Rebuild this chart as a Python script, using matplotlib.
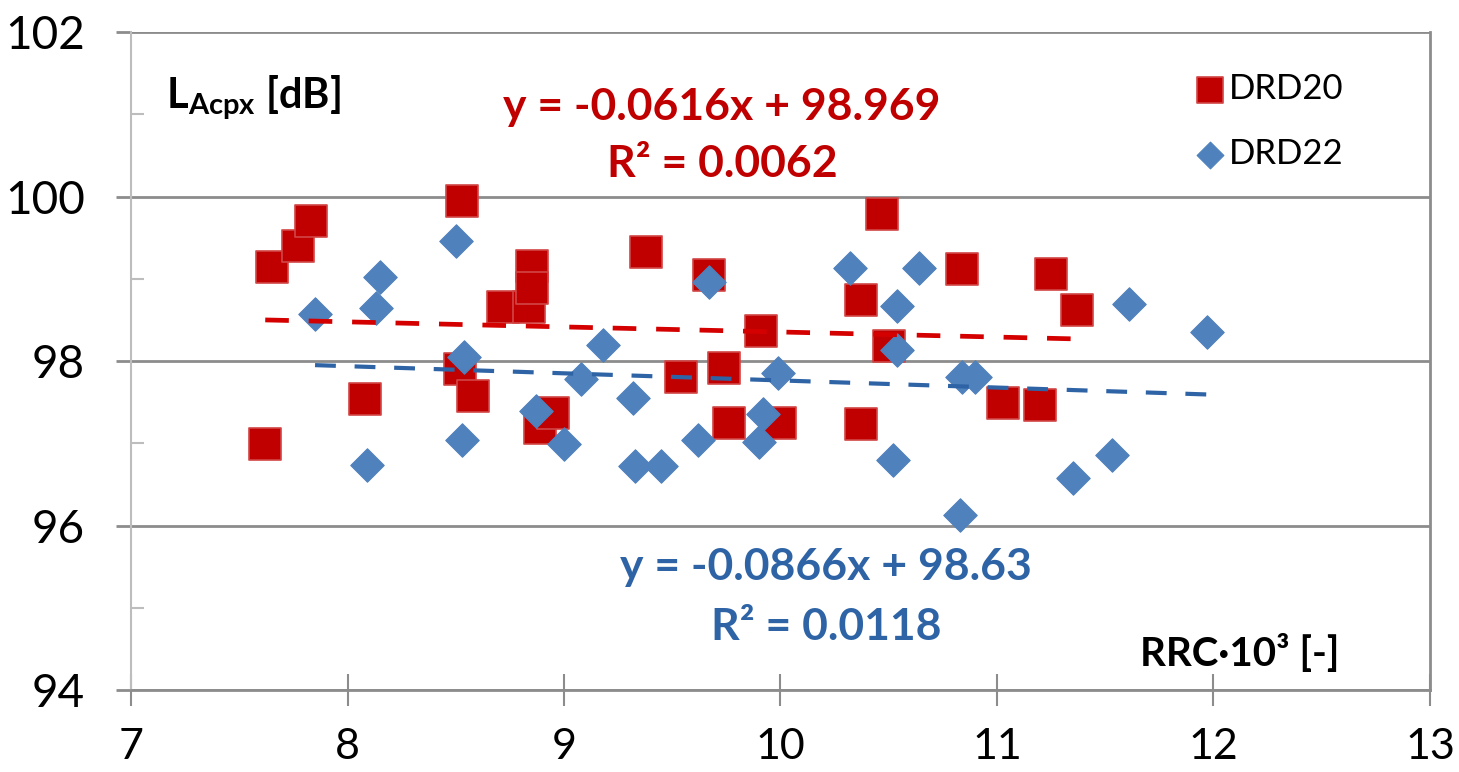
import numpy as np
import matplotlib
matplotlib.use("Agg")
import matplotlib.pyplot as plt

plt.rcParams['font.family'] = ['Lato', 'DejaVu Sans']
plt.rcParams['mathtext.fontset'] = 'custom'
plt.rcParams['mathtext.rm'] = 'Lato'
plt.rcParams['mathtext.bf'] = 'Lato:bold'

# DRD20 (red squares)
drd20_x = [7.62, 7.65, 7.77, 7.83, 8.08, 8.52, 8.53, 8.58, 8.72, 8.84,
           8.85, 8.85, 8.89, 8.95, 9.38, 9.54, 9.67, 9.74, 9.76, 9.91,
           10.00, 10.37, 10.37, 10.47, 10.50, 10.84, 11.03, 11.20, 11.25, 11.37]
drd20_y = [96.99, 99.14, 99.40, 99.70, 97.54, 97.90, 99.95, 97.58, 98.66, 98.66,
           99.16, 98.89, 97.19, 97.37, 99.32, 97.80, 99.05, 97.92, 97.25, 98.37,
           97.25, 98.74, 97.23, 99.79, 98.18, 99.12, 97.49, 97.47, 99.06, 98.62]

# DRD22 (blue diamonds)
drd22_x = [7.85, 8.09, 8.13, 8.15, 8.50, 8.53, 8.54, 8.87, 9.00, 9.08,
           9.18, 9.32, 9.33, 9.45, 9.62, 9.67, 9.90, 9.92, 9.99, 10.32,
           10.52, 10.54, 10.54, 10.64, 10.83, 10.84, 10.90, 11.35, 11.53, 11.61,
           11.97]
drd22_y = [98.57, 96.74, 98.64, 99.02, 99.46, 97.04, 98.05, 97.39, 96.99, 97.78,
           98.20, 97.55, 96.72, 96.72, 97.04, 98.96, 97.02, 97.35, 97.85, 99.13,
           96.80, 98.67, 98.13, 99.13, 96.13, 97.80, 97.80, 96.58, 96.86, 98.69,
           98.35]

# trendlines as printed on the chart
fit20 = (-0.0616, 98.969, 0.0062)
fit22 = (-0.0866, 98.63, 0.0118)

RED = '#C00000'
BLUE = '#4F81BD'
GRID = '#8C8C8C'

fig = plt.figure(figsize=(14.59, 7.72), dpi=100)
ax = fig.add_axes([0.0898, 0.1062, 0.8903, 0.8523])

ax.scatter(drd20_x, drd20_y, marker='s', s=520, facecolor=RED,
           edgecolor='#D24545', linewidth=1.2, label='DRD20', zorder=3)
ax.scatter(drd22_x, drd22_y, marker='D', s=290, facecolor=BLUE,
           edgecolor=BLUE, linewidth=0.8, label='DRD22', zorder=4)

# trendlines over the data range
tx = np.array([min(drd20_x), max(drd20_x)])
ax.plot(tx, fit20[0] * tx + fit20[1], color='#D40000', lw=3.4,
        dashes=(5, 4.2), zorder=5)
tx = np.array([min(drd22_x), max(drd22_x)])
ax.plot(tx, fit22[0] * tx + fit22[1], color='#2E64A6', lw=3.0,
        dashes=(5, 4.5), zorder=5)

ax.set_xlim(7, 13)
ax.set_ylim(94, 102)
ax.set_xticks(range(7, 14))
ax.set_yticks(range(94, 103, 2))
ax.set_yticks(range(95, 102, 2), minor=True)

ax.grid(True, axis='y', which='major', color=GRID, lw=2)
ax.set_axisbelow(True)

ax.spines['top'].set_visible(False)
ax.spines['bottom'].set_color(GRID)
ax.spines['bottom'].set_linewidth(2)
ax.spines['right'].set_color(GRID)
ax.spines['right'].set_linewidth(2)
ax.spines['left'].set_color('#BDBDBD')
ax.spines['left'].set_linewidth(1.5)

ax.tick_params(axis='x', direction='inout', length=23, width=1.5,
               color=GRID, labelsize=31, pad=16)
ax.tick_params(axis='y', which='major', direction='out', length=11,
               width=2, color=GRID, labelsize=33, pad=22)
ax.tick_params(axis='y', which='minor', direction='in', length=9,
               width=1.5, color='#BDBDBD')

fs = 32
ax.text(9.73, 101.09, 'y = %.4fx + %.3f' % (fit20[0], fit20[1]),
        color=RED, fontsize=fs, fontweight='bold', ha='center', va='center')
ax.text(9.73, 100.40, 'R² = %.4f' % fit20[2],
        color=RED, fontsize=fs, fontweight='bold', ha='center', va='center')
ax.text(10.21, 95.50, 'y = %.4fx + %.2f' % (fit22[0], fit22[1]),
        color='#2E64A6', fontsize=fs, fontweight='bold', ha='center', va='center')
ax.text(10.21, 94.77, 'R² = %.4f' % fit22[2],
        color='#2E64A6', fontsize=fs, fontweight='bold', ha='center', va='center')

ax.text(7.16, 101.2, r'$\mathbf{L_{Acpx}}$ [dB]', fontsize=30,
        fontweight='bold', ha='left', va='center')
ax.text(12.58, 94.45, 'RRC·10³ [-]', fontsize=29, fontweight='bold',
        ha='right', va='center')

ax.legend(loc='upper left', bbox_to_anchor=(0.793, 0.985), frameon=False,
          fontsize=25, markerscale=0.8, handletextpad=0.05,
          labelspacing=0.95, handlelength=1.0)

fig.savefig('out.png', dpi=100)
